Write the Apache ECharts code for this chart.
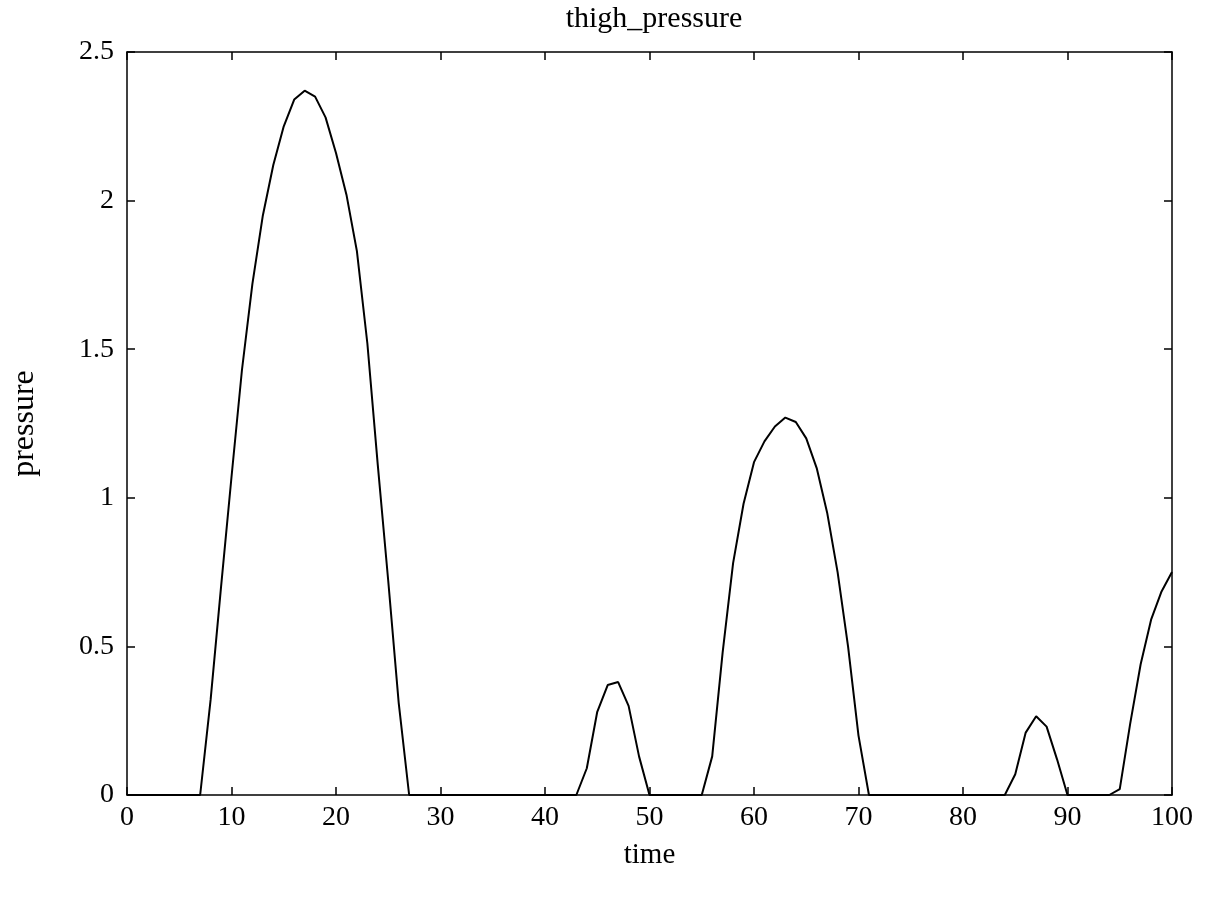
<!DOCTYPE html>
<html>
<head>
<meta charset="utf-8">
<title>thigh_pressure</title>
<script src="https://cdn.jsdelivr.net/npm/echarts@6/dist/echarts.min.js"></script>
<style>
  html, body { margin: 0; padding: 0; background: #fff; }
  #chart-container { width: 1205px; height: 898px; }
</style>
</head>
<body>
<div id="chart-container"></div>
<script>
// time samples 0..100
let time = [];
for (let t = 0; t <= 100; t++) time.push(t);

// pressure, one value per time step
let pressure = [
    0, 0, 0, 0, 0, 0, 0, 0, 0.32, 0.70,            // 0-9
    1.07, 1.43, 1.72, 1.95, 2.12, 2.25, 2.34, 2.37, 2.35, 2.28, // 10-19
    2.16, 2.02, 1.83, 1.52, 1.11, 0.72, 0.31, 0, 0, 0, // 20-29
    0, 0, 0, 0, 0, 0, 0, 0, 0, 0,                  // 30-39
    0, 0, 0, 0, 0.09, 0.28, 0.37, 0.38, 0.30, 0.13, // 40-49
    0, 0, 0, 0, 0, 0, 0.13, 0.48, 0.78, 0.98,      // 50-59
    1.12, 1.19, 1.24, 1.27, 1.255, 1.20, 1.10, 0.95, 0.75, 0.50, // 60-69
    0.20, 0, 0, 0, 0, 0, 0, 0, 0, 0,               // 70-79
    0, 0, 0, 0, 0, 0.07, 0.21, 0.265, 0.23, 0.12,  // 80-89
    0, 0, 0, 0, 0, 0.02, 0.24, 0.44, 0.59, 0.685,  // 90-99
    0.75                                            // 100
];

let xTicks = [0, 10, 20, 30, 40, 50, 60, 70, 80, 90, 100];
let yTicks = [0, 0.5, 1, 1.5, 2, 2.5];

let dom = document.getElementById("chart-container");
let myChart = echarts.init(dom, null, { renderer: "canvas" });

let serif = "'Liberation Serif', 'DejaVu Serif', serif";
let boxLine = { show: true, onZero: false, lineStyle: { color: "#000", width: 1.5 } };
let tickIn = { show: true, inside: true, length: 8, lineStyle: { color: "#000", width: 1.5 } };

let option = {
    backgroundColor: "#fff",
    animation: false,
    title: {
        text: "thigh_pressure",
        left: 649,
        top: -1,
        textAlign: "center",
        textStyle: { fontFamily: serif, fontSize: 30, fontWeight: "normal", color: "#000" },
    },
    grid: { left: 127, right: 33, top: 52, bottom: 103 },
    xAxis: [{
        type: "value",
        min: xTicks[0],
        max: xTicks[xTicks.length - 1],
        interval: 10,
        name: "time",
        nameLocation: "middle",
        nameGap: 46,
        nameTextStyle: { fontFamily: serif, fontSize: 29, color: "#000" },
        axisLine: boxLine,
        axisTick: tickIn,
        axisLabel: { fontFamily: serif, fontSize: 28, color: "#000", margin: 9 },
        splitLine: { show: false },
    }, {
        type: "value",
        position: "top",
        min: xTicks[0],
        max: xTicks[xTicks.length - 1],
        interval: 10,
        axisLine: boxLine,
        axisTick: tickIn,
        axisLabel: { show: false },
        splitLine: { show: false },
    }],
    yAxis: [{
        type: "value",
        min: yTicks[0],
        max: yTicks[yTicks.length - 1],
        interval: 0.5,
        name: "pressure",
        nameLocation: "middle",
        nameGap: 86,
        nameRotate: 90,
        nameTextStyle: { fontFamily: serif, fontSize: 32, color: "#000" },
        axisLine: boxLine,
        axisTick: tickIn,
        axisLabel: { fontFamily: serif, fontSize: 28, color: "#000", margin: 13 },
        splitLine: { show: false },
    }, {
        type: "value",
        position: "right",
        min: yTicks[0],
        max: yTicks[yTicks.length - 1],
        interval: 0.5,
        axisLine: boxLine,
        axisTick: tickIn,
        axisLabel: { show: false },
        splitLine: { show: false },
    }],
    series: [{
        name: "thigh_pressure",
        type: "line",
        data: time.map((t, i) => [t, pressure[i]]),
        showSymbol: false,
        lineStyle: { color: "#000", width: 2 },
    }],
};

myChart.setOption(option);
window.addEventListener("resize", myChart.resize);
</script>
</body>
</html>
